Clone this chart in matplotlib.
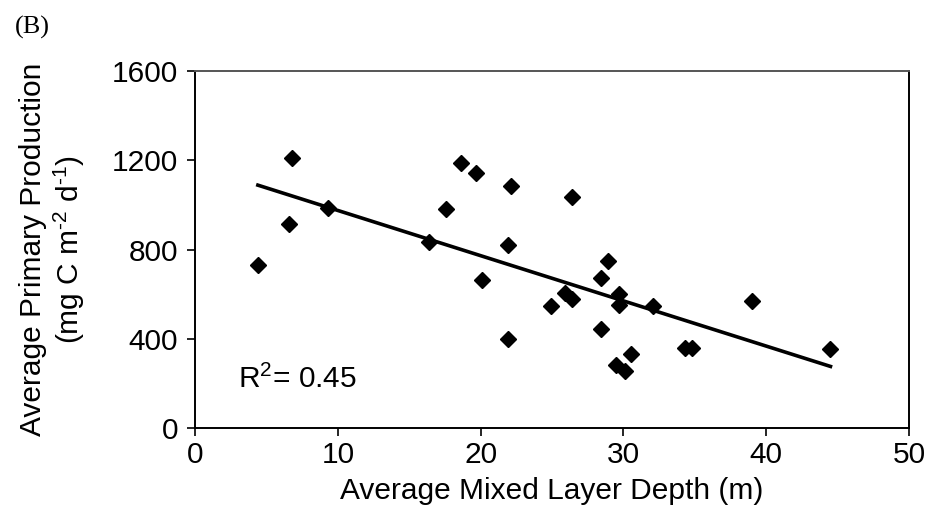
import numpy as np
import matplotlib
matplotlib.use('Agg')
import matplotlib.pyplot as plt

# mixed layer depth (m) vs primary production (mg C m-2 d-1)
mld = [4.4, 6.8, 6.6, 9.3, 16.4, 17.6, 18.6, 19.7, 20.1, 22.1,
       26.4, 21.9, 21.9, 24.9, 25.9, 26.4, 28.9, 28.4, 28.4, 29.7,
       29.7, 32.1, 30.5, 29.5, 30.1, 34.3, 34.8, 39.0, 44.5]
prod = [730, 1209, 914, 985, 835, 981, 1189, 1142, 663, 1085,
        1034, 820, 397, 547, 607, 577, 748, 674, 444, 599,
        551, 547, 332, 282, 257, 357, 357, 571, 353]
r2_text = 'R$^2$= 0.45'

plt.rcParams['font.family'] = ['Liberation Sans', 'DejaVu Sans']
plt.rcParams['mathtext.fontset'] = 'custom'
plt.rcParams['mathtext.rm'] = 'Liberation Sans'
plt.rcParams['mathtext.it'] = 'Liberation Sans'

fs = 21.5

fig = plt.figure(figsize=(9.27, 5.21), dpi=100)
ax = fig.add_axes([0.2104, 0.1785, 0.7702, 0.6852])

ax.plot(mld, prod, 'D', color='black', ms=8.5, zorder=3)

# linear fit
slope, icpt = np.polyfit(mld, prod, 1)
xs = np.array([min(mld), max(mld)])
ax.plot(xs, slope * xs + icpt, color='black', lw=2.6)

ax.set_xlim(0, 50)
ax.set_ylim(0, 1600)
ax.set_xticks([0, 10, 20, 30, 40, 50])
ax.set_yticks([0, 400, 800, 1200, 1600])
ax.tick_params(labelsize=fs, length=6, width=1.2, direction='out')
ax.tick_params(axis='y', pad=6)
ax.tick_params(axis='x', pad=3)
for s in ax.spines.values():
    s.set_linewidth(1.4)
ax.spines['top'].set_color('#555555')

ax.set_xlabel('Average Mixed Layer Depth (m)', fontsize=fs, labelpad=6)
ax.set_ylabel('Average Primary Production\n(mg C m$^{\u2010 2}$ d$^{\u2010 1}$)', fontsize=fs,
              linespacing=1.18)
ax.yaxis.set_label_coords(-0.151, 0.5)
ax.text(3.0, 180, r2_text, fontsize=fs)

fig.text(0.016, 0.948, '(B)', fontsize=19, family='Liberation Serif', va='center')

fig.savefig('out.png', dpi=100)
